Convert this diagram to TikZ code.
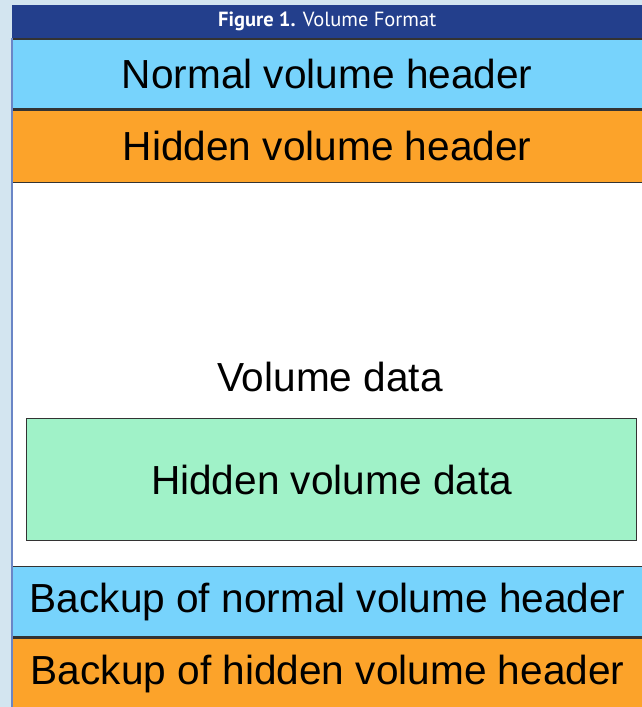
\documentclass[tikz,border=0pt]{standalone}
\usepackage{fontspec}
\setmainfont{Liberation Sans}
\newfontfamily\titlefont{PT Sans}
\usetikzlibrary{positioning}
\definecolor{pageblue}{HTML}{D3E5F0}
\definecolor{titleblue}{HTML}{233F8C}
\definecolor{hdrblue}{HTML}{77D3FC}
\definecolor{hdrorange}{HTML}{FCA32A}
\definecolor{datagreen}{HTML}{A0F2C8}
\definecolor{edgeblue}{HTML}{6A86C6}
\tikzset{
	band/.style      = {shape=rectangle, draw=black!80, line width=1.3pt,
		minimum width=630pt, inner sep=0pt,
		font=\fontsize{40.6}{44}\selectfont},
	normhdr/.style   = {band, fill=hdrblue, minimum height=70pt},
	hiddenhdr/.style = {band, fill=hdrorange, minimum height=72pt},
	dataarea/.style  = {band, draw=none, fill=white, minimum height=386pt},
	hiddendata/.style= {band, fill=datagreen, minimum width=610pt, minimum height=122pt},
	titlebar/.style  = {shape=rectangle, fill=titleblue, text=white,
		minimum width=630pt, minimum height=33pt, inner sep=0pt,
		font=\titlefont\fontsize{20.5}{22}\selectfont}
}
\begin{document}
\begin{tikzpicture}[x=1pt, y=-1pt]
\useasboundingbox (0,0) rectangle (642,707);
\fill[pageblue] (0,0) rectangle (642,707);
% title and headers
\node [titlebar, anchor=north west] (title) at (12,5)
	{\textbf{Figure 1.} Volume Format};
\node [dataarea, anchor=north west] (area) at (12,180) {};
\node [normhdr, below=0pt of title] (normhdr) {Normal volume header};
\node [hiddenhdr, below=0pt of normhdr] (hiddenhdr) {Hidden volume header};
\node [font=\fontsize{40.6}{44}\selectfont] (voldata) at (330,377) {Volume data};
\node [hiddendata, anchor=north west] (hiddendata) at (26,418) {Hidden volume data};
% backups at the end
\node [normhdr, anchor=north west] (bknorm) at (12,566) {Backup of normal volume header};
\node [hiddenhdr, below=0pt of bknorm] (bkhidden) {Backup of hidden volume header};
\draw [edgeblue, line width=1.2pt] (title.south west) -- (bkhidden.south west);
\end{tikzpicture}
\end{document}
